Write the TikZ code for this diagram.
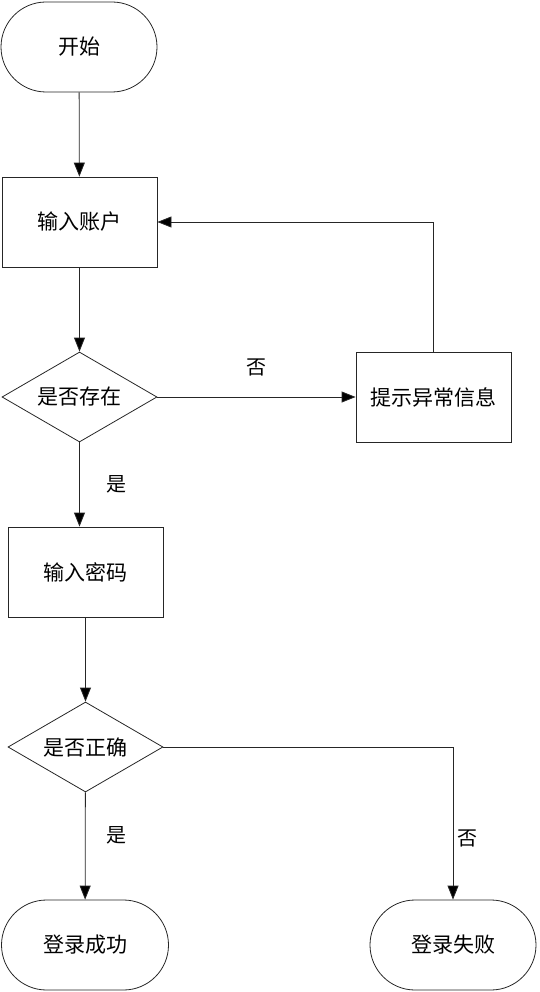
\documentclass[tikz,border=0pt]{standalone}
\usepackage{fontspec}
\setmainfont{Noto Sans CJK SC}
\usetikzlibrary{shapes.geometric,arrows.meta,calc}

\begin{document}
\begin{tikzpicture}[x=1pt,y=-1pt, >={Triangle[length=14pt,width=11pt,fill=black]},
  font=\fontsize{21}{24}\selectfont, line width=0.8pt, draw=black!85,
  term/.style={draw,rectangle,rounded corners=45pt,minimum width=156pt,minimum height=90pt},
  proc/.style={draw,rectangle,minimum width=155pt,minimum height=90pt},
  decide/.style={draw,diamond,aspect=1.72,inner sep=0pt,minimum width=155pt,minimum height=90pt},
  lbl/.style={font=\fontsize{20}{22}\selectfont}]
  \useasboundingbox (0,0) rectangle (539,992);
  \node[term] (start) at (79,47) {开始};
  \node[proc] (acct) at (79.5,222) {输入账户};
  \node[decide] (exist) at (79.5,397) {是否存在};
  \node[proc] (tip) at (433.5,397) {提示异常信息};
  \node[proc] (pwd) at (85.5,572) {输入密码};
  \node[decide] (check) at (85.5,747) {是否正确};
  \node[term,minimum width=167pt] (ok) at (85,945) {登录成功};
  \node[term,minimum width=166pt] (fail) at (453,945) {登录失败};
  \draw[->](start)--(acct);
  \draw[->](acct)--(exist);
  \draw[->](exist)--(tip) node[lbl,midway,yshift=30pt]{否};
  \draw[->](tip.north)|-(acct.east);
  \draw[->](exist.south)--(exist.south|-pwd.north) node[lbl,midway,xshift=37pt]{是};
  \draw[->](pwd)--(check);
  \draw[->](check)--(ok) node[lbl,pos=0.4,xshift=31pt]{是};
  \draw[->](check.east)-|(fail.north) node[lbl,pos=0.8,xshift=14pt]{否};
\end{tikzpicture}
\end{document}
